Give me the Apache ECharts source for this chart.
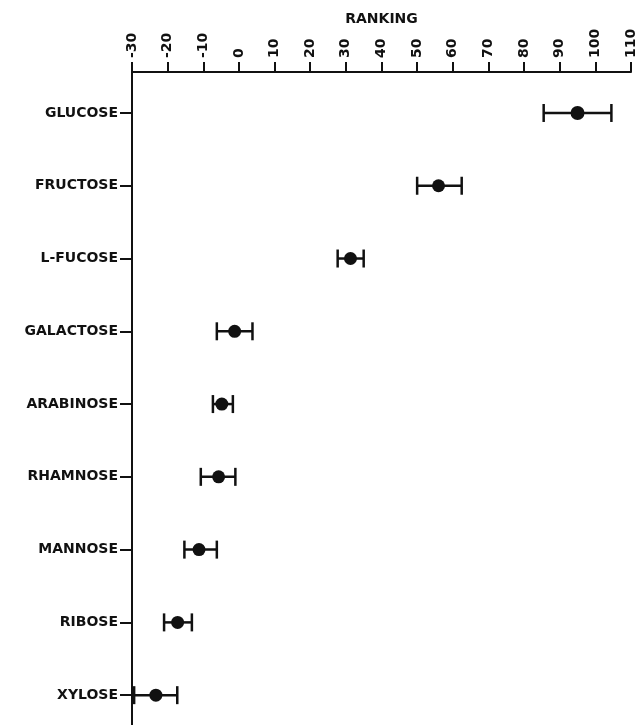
<!DOCTYPE html>
<html>
<head>
<meta charset="utf-8">
<script src="https://cdn.jsdelivr.net/npm/echarts@6/dist/echarts.min.js"></script>
<style>
html,body{margin:0;padding:0;background:#fff;}
#chart{width:641px;height:725px;}
</style>
</head>
<body>
<div id="chart"></div>
<script>
const categories = ['GLUCOSE','FRUCTOSE','L-FUCOSE','GALACTOSE','ARABINOSE','RHAMNOSE','MANNOSE','RIBOSE','XYLOSE'];
const means = [95, 56, 31.3, -1.2, -4.8, -5.7, -11.2, -17.2, -23.3];
const lows  = [85.5, 50, 27.7, -6.2, -7.3, -10.7, -15.3, -21, -29.4];
const highs = [104.5, 62.5, 35, 3.8, -1.7, -1, -6.2, -13.2, -17.3];
const xTicks = [-30,-20,-10,0,10,20,30,40,50,60,70,80,90,100,110];

const catIdx = categories.map((c,i)=>i);
const ink = '#111';
const font = 'DejaVu Sans';

const chart = echarts.init(document.getElementById('chart'), null, {renderer:'canvas'});
chart.setOption({
  backgroundColor:'#fff',
  animation:false,
  grid:{left:132, right:10, top:72, bottom:0},
  xAxis:{
    type:'value', position:'top', min:xTicks[0], max:xTicks[xTicks.length-1], interval:10,
    name:'RANKING', nameLocation:'middle', nameGap:46, nameMoveOverlap:false,
    nameTextStyle:{fontFamily:font, fontWeight:'bold', fontSize:14, color:ink},
    axisLine:{show:true, onZero:false, lineStyle:{color:ink, width:2}},
    axisTick:{show:true, length:10, lineStyle:{color:ink, width:2}},
    axisLabel:{rotate:-90, margin:14, fontFamily:font, fontWeight:'bold', fontSize:14, color:ink},
    splitLine:{show:false}
  },
  yAxis:{
    type:'value', inverse:true, min:-0.563, max:8.41,
    axisLine:{show:true, onZero:false, lineStyle:{color:ink, width:2}},
    axisTick:{show:true, length:12, customValues:catIdx, lineStyle:{color:ink, width:2}},
    axisLabel:{customValues:catIdx, margin:14, fontFamily:font, fontWeight:'bold', fontSize:14, color:ink,
      formatter:v=>categories[Math.round(v)]},
    splitLine:{show:false}
  },
  series:[
    {
      type:'custom',
      data: catIdx.map(i=>[lows[i], highs[i], i]),
      renderItem:(params, api)=>{
        const y = api.value(2);
        const a = api.coord([api.value(0), y]);
        const b = api.coord([api.value(1), y]);
        const h = 9;
        const st = {stroke:ink, lineWidth:2.5};
        return {type:'group', children:[
          {type:'line', shape:{x1:a[0],y1:a[1],x2:b[0],y2:b[1]}, style:st},
          {type:'line', shape:{x1:a[0],y1:a[1]-h,x2:a[0],y2:a[1]+h}, style:st},
          {type:'line', shape:{x1:b[0],y1:b[1]-h,x2:b[0],y2:b[1]+h}, style:st}
        ]};
      },
      z:2
    },
    {
      type:'scatter',
      data: catIdx.map(i=>[means[i], i]),
      symbol:'circle',
      symbolSize:(v,p)=> p.dataIndex===0 ? 14 : 13,
      itemStyle:{color:ink, opacity:1},
      z:3
    }
  ]
});
</script>
</body>
</html>
